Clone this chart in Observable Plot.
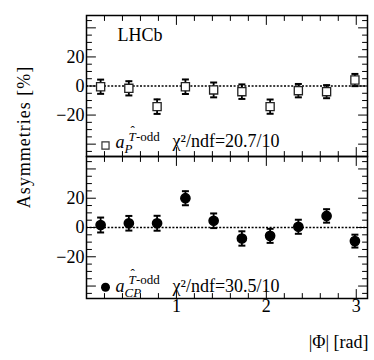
<!DOCTYPE html>
<html>
<head>
<meta charset="utf-8">
<script src="https://cdn.jsdelivr.net/npm/d3@7"></script>
<script src="https://cdn.jsdelivr.net/npm/@observablehq/plot@0.6"></script>
</head>
<body style="margin:0">
<div id="wrap" style="position:relative;width:374px;height:360px;font-family:'Liberation Serif'">
  <div id="top" style="position:absolute;left:0;top:0"></div>
  <div id="bottom" style="position:absolute;left:0;top:152px"></div>
  <div id="ylabel" style="position:absolute;left:-76px;top:126px;width:200px;height:22px;line-height:22px;text-align:center;font-size:18px;letter-spacing:1px;transform:rotate(-90deg);white-space:nowrap;font-family:'Liberation Serif'">Asymmetries [%]</div>
</div>
<script>
// ---- data ----
const phi = [0.157, 0.471, 0.785, 1.100, 1.414, 1.728, 2.042, 2.356, 2.670, 2.985];
const aP = [-0.5, -1.6, -14.2, -0.5, -2.7, -3.9, -14.2, -3.2, -3.9, 4.1];
const aPerr = [4.9, 4.9, 5.0, 5.0, 5.1, 5.0, 4.9, 4.6, 4.5, 4.2];
const aCP = [1.7, 2.9, 2.9, 20.0, 4.6, -7.5, -5.7, 0.5, 7.9, -9.3];
const aCPerr = [5.1, 5.0, 5.1, 4.8, 5.0, 4.9, 4.8, 4.8, 4.6, 4.4];
const yLabelTicks = [-20, 0, 20];
const yMajorTicks = [-40, -20, 0, 20, 40];
const yMinorTicks = [-45, -35, -30, -25, -15, -10, -5, 5, 10, 15, 25, 30, 35, 45];
const xLabelTicks = [1, 2, 3];
const xMajorTicks = [1, 2, 3];
const xMinorTicks = [0.2, 0.4, 0.6, 0.8, 1.2, 1.4, 1.6, 1.8, 2.2, 2.4, 2.6, 2.8];
const chiP = "\u03C7\u00B2/ndf=20.7/10";
const chiCP = "\u03C7\u00B2/ndf=30.5/10";

const FONT = "Liberation Serif";
const FS = 18; // larger sizes fall back to a sans face in this renderer
const xDomain = [0, 3.125];
const yDomain = [-48.5, 48.5];

const tickShape = {draw(ctx, l) { ctx.moveTo(0, 0); ctx.lineTo(0, -l); }};
const capSymbol = {draw(ctx) { ctx.moveTo(-3.5, 0); ctx.lineTo(3.5, 0); }};

function tickMarks() {
  const common = {anchor: "start", shape: tickShape, stroke: "black", strokeWidth: 1};
  const out = [];
  for (const [ticks, len] of [[yMinorTicks, 5], [yMajorTicks, 9]]) {
    out.push(Plot.vector(ticks, {...common, y: Plot.identity, frameAnchor: "left", rotate: 90, length: len}));
    out.push(Plot.vector(ticks, {...common, y: Plot.identity, frameAnchor: "right", rotate: 270, length: len}));
  }
  for (const [ticks, len] of [[xMinorTicks, 5], [xMajorTicks, 9]]) {
    out.push(Plot.vector(ticks, {...common, x: Plot.identity, frameAnchor: "bottom", rotate: 0, length: len}));
    out.push(Plot.vector(ticks, {...common, x: Plot.identity, frameAnchor: "top", rotate: 180, length: len}));
  }
  return out;
}

function rows(vals, errs) {
  return phi.map((x, i) => ({x, y: vals[i], lo: vals[i] - errs[i], hi: vals[i] + errs[i]}));
}

function errorMarks(data) {
  return [
    Plot.ruleX(data, {x: "x", y1: "lo", y2: "hi", stroke: "black", strokeWidth: 1.8}),
    Plot.dot(data, {x: "x", y: "lo", symbol: capSymbol, fill: "none", stroke: "black", strokeWidth: 2}),
    Plot.dot(data, {x: "x", y: "hi", symbol: capSymbol, fill: "none", stroke: "black", strokeWidth: 2})
  ];
}

function legendText(sub, chi, dyA, dySup, dySub, dyChi) {
  const t = {frameAnchor: "bottom-left", textAnchor: "start", lineAnchor: "bottom", fill: "black", fontFamily: FONT};
  return [
    Plot.text(["a"], {...t, text: Plot.identity, dx: 29, dy: dyA, fontSize: FS, fontStyle: "italic"}),
    Plot.text(["T"], {...t, text: Plot.identity, dx: 42, dy: dySup, fontSize: 13, fontStyle: "italic"}),
    Plot.text(["\u02C6"], {...t, text: Plot.identity, dx: 44, dy: dySup - 6, fontSize: 13}),
    Plot.text(["-odd"], {...t, text: Plot.identity, dx: 49.5, dy: dySup, fontSize: 13}),
    Plot.text([sub], {...t, text: Plot.identity, dx: 38, dy: dySub, fontSize: 13, fontStyle: "italic"}),
    Plot.text([chi], {...t, text: Plot.identity, dx: 86, dy: dyChi, fontSize: FS, letterSpacing: 0.6})
  ];
}

const base = {
  width: 374, marginLeft: 86, marginRight: 7,
  x: {domain: xDomain, axis: null},
  y: {domain: yDomain, axis: null},
  style: {fontFamily: FONT, background: "none"}
};

const dataP = rows(aP, aPerr);
const dataCP = rows(aCP, aCPerr);

const topPlot = Plot.plot({
  ...base,
  height: 160, marginTop: 15, marginBottom: 4,
  marks: [
    Plot.ruleY([0], {stroke: "black", strokeWidth: 1.3, strokeDasharray: "2,1.6"}),
    ...errorMarks(dataP),
    Plot.dot(dataP, {x: "x", y: "y", symbol: "square", r: 4.6, fill: "white", stroke: "#222", strokeWidth: 1.3}),
    ...tickMarks(),
    Plot.axisY(yLabelTicks, {anchor: "left", tickSize: 0, tickPadding: 2, fontSize: FS, fill: "black", label: null, fontFamily: FONT}),
    Plot.text(["LHCb"], {text: Plot.identity, frameAnchor: "top-left", dx: 31, dy: 25, textAnchor: "start",
      lineAnchor: "bottom", fontSize: FS, fill: "black", fontFamily: FONT, letterSpacing: 1.5}),
    Plot.dot([0], {frameAnchor: "bottom-left", dx: 19, dy: -11, symbol: "square", r: 4, fill: "white", stroke: "#333", strokeWidth: 1.2}),
    ...legendText("P", chiP, -9, -16, -4, -10),
    Plot.frame({stroke: "black", strokeWidth: 1.5})
  ]
});

const bottomPlot = Plot.plot({
  ...base,
  height: 208, marginTop: 4, marginBottom: 62,
  marks: [
    Plot.ruleY([0], {stroke: "black", strokeWidth: 1.3, strokeDasharray: "2,1.6"}),
    ...errorMarks(dataCP),
    Plot.dot(dataCP, {x: "x", y: "y", r: 4.6, fill: "black", stroke: "black"}),
    ...tickMarks(),
    Plot.axisY(yLabelTicks, {anchor: "left", tickSize: 0, tickPadding: 2, fontSize: FS, fill: "black", label: null, fontFamily: FONT}),
    Plot.axisX(xLabelTicks, {anchor: "bottom", tickSize: 0, tickPadding: 1, fontSize: FS, fill: "black", label: null, fontFamily: FONT}),
    Plot.text(["|\u03A6| [rad]"], {text: Plot.identity, frameAnchor: "bottom-right", dx: 1, dy: 49, textAnchor: "end",
      lineAnchor: "bottom", fontSize: FS, fill: "black", fontFamily: FONT, letterSpacing: 0.8}),
    Plot.dot([0], {frameAnchor: "bottom-left", dx: 19, dy: -11.3, r: 4.5, fill: "black"}),
    ...legendText("CP", chiCP, -7, -15, -2, -6.5),
    Plot.frame({stroke: "black", strokeWidth: 1.5})
  ]
});

topPlot.style.overflow = "visible";
bottomPlot.style.overflow = "visible";
document.getElementById("top").appendChild(topPlot);
document.getElementById("bottom").appendChild(bottomPlot);
</script>
</body>
</html>
